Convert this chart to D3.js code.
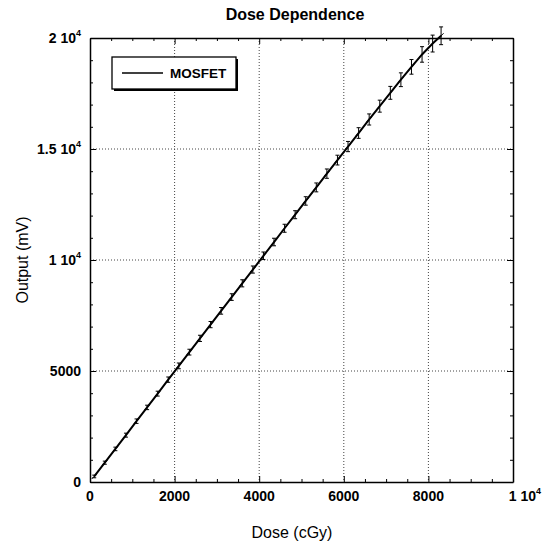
<!DOCTYPE html>
<html>
<head>
<meta charset="utf-8">
<script src="https://cdn.jsdelivr.net/npm/d3@7"></script>
<style>
  body { margin: 0; background: #fff; }
  svg { font-family: "Liberation Sans", Arial, sans-serif; }
</style>
</head>
<body>
<svg id="chart" width="548" height="545"></svg>
<script>
// data
const doses = [100, 350, 600, 850, 1100, 1350, 1600, 1850, 2100, 2350, 2600, 2850, 3100, 3350, 3600, 3850,
               4100, 4350, 4600, 4850, 5100, 5350, 5600, 5850, 6100, 6350, 6600, 6850, 7100, 7350, 7600, 7850, 8100, 8300]
const outputs = [250, 870, 1490, 2110, 2740, 3360, 3980, 4610, 5230, 5850, 6470, 7090, 7710, 8330, 8950, 9570,
                 10190, 10810, 11430, 12040, 12660, 13270, 13890, 14500, 15110, 15720, 16330, 16930, 17530, 18120, 18700, 19260, 19750, 20100]
const errors = [60, 70, 80, 90, 100, 100, 110, 120, 130, 130, 140, 140, 150, 150, 160, 160,
                170, 170, 180, 180, 190, 200, 210, 220, 230, 240, 250, 270, 290, 310, 330, 350, 380, 400]
const xTicks = [0, 2000, 4000, 6000, 8000, 10000]
const xTickLabels = ["0", "2000", "4000", "6000", "8000", "1 10|4"]
const yTicks = [0, 5000, 10000, 15000, 20000]
const yTickLabels = ["0", "5000", "1 10|4", "1.5 10|4", "2 10|4"]

const svg = d3.select("#chart")
const pLeft = 90, pRight = 513, pTop = 38, pBottom = 482

const x = d3.scaleLinear().domain([0, 10000]).range([pLeft, pRight])
const y = d3.scaleLinear().domain([0, 20000]).range([pBottom, pTop])

//grid
const grid = svg.append("g").attr("stroke", "#444").attr("stroke-width", 1).attr("stroke-dasharray", "1,2")
grid.selectAll("line.v").data(xTicks.slice(1, -1)).join("line").attr("class", "v")
    .attr("x1", d => x(d)).attr("x2", d => x(d)).attr("y1", pTop).attr("y2", pBottom)
grid.selectAll("line.h").data(yTicks.slice(1, -1)).join("line").attr("class", "h")
    .attr("y1", d => y(d)).attr("y2", d => y(d)).attr("x1", pLeft).attr("x2", pRight)

//axes, ticks inward on every side
const minorX = d3.range(0, 10001, 500).filter(d => d % 2000 !== 0)
const minorY = d3.range(0, 20001, 1000).filter(d => d % 5000 !== 0)

const axes = [
    { ax: d3.axisBottom(x), tr: `translate(0,${pBottom})`, minor: minorX, maj: xTicks },
    { ax: d3.axisTop(x), tr: `translate(0,${pTop})`, minor: minorX, maj: xTicks },
    { ax: d3.axisLeft(y), tr: `translate(${pLeft},0)`, minor: minorY, maj: yTicks },
    { ax: d3.axisRight(y), tr: `translate(${pRight},0)`, minor: minorY, maj: yTicks }
]
axes.forEach(a => {
    svg.append("g").attr("transform", a.tr)
        .call(a.ax.tickValues(a.minor).tickSize(-3).tickSizeOuter(0).tickFormat(""))
        .select(".domain").remove()
    const g = svg.append("g").attr("transform", a.tr)
    g.call(a.ax.tickValues(a.maj).tickSize(-6).tickSizeOuter(0).tickFormat(""))
    g.select(".domain").attr("stroke", "#000").attr("stroke-width", 1.5)
})

//tick labels, exponent as superscript
const addLabel = (sel, str) => {
    const parts = str.split("|")
    sel.append("tspan").text(parts[0])
    if (parts[1]) sel.append("tspan").attr("dy", -7).attr("font-size", 9).text(parts[1])
}
xTicks.forEach((d, i) => {
    // last label pushed right towards the page edge like the original, but kept whole
    const t = svg.append("text").attr("x", x(d) + (i === xTicks.length - 1 ? 12 : 0)).attr("y", pBottom + 19)
        .attr("text-anchor", "middle").attr("font-size", 14).attr("font-weight", "bold")
    addLabel(t, xTickLabels[i])
})
yTicks.forEach((d, i) => {
    const t = svg.append("text").attr("x", pLeft - 9).attr("y", y(d) + 5).attr("text-anchor", "end")
        .attr("font-size", 14).attr("font-weight", "bold")
    addLabel(t, yTickLabels[i])
})

//series line
const pts = doses.map((d, i) => ({ d, o: outputs[i], e: errors[i] }))
svg.append("path").datum(pts)
    .attr("d", d3.line().x(p => x(p.d)).y(p => y(p.o)))
    .attr("fill", "none").attr("stroke", "#000").attr("stroke-width", 2)

//error bars
const pg = svg.append("g").attr("stroke", "#000").attr("stroke-width", 1)
pg.selectAll("line.err").data(pts).join("line").attr("class", "err")
    .attr("x1", p => x(p.d)).attr("x2", p => x(p.d))
    .attr("y1", p => y(p.o - p.e)).attr("y2", p => y(p.o + p.e))
pg.selectAll("line.cap1").data(pts).join("line").attr("class", "cap1")
    .attr("x1", p => x(p.d) - 2).attr("x2", p => x(p.d) + 2)
    .attr("y1", p => y(p.o + p.e)).attr("y2", p => y(p.o + p.e))
pg.selectAll("line.cap2").data(pts).join("line").attr("class", "cap2")
    .attr("x1", p => x(p.d) - 2).attr("x2", p => x(p.d) + 2)
    .attr("y1", p => y(p.o - p.e)).attr("y2", p => y(p.o - p.e))
pg.selectAll("line.mk").data(pts).join("line").attr("class", "mk")
    .attr("x1", p => x(p.d) - 2.5).attr("x2", p => x(p.d) + 2.5)
    .attr("y1", p => y(p.o) + 2.5).attr("y2", p => y(p.o) - 2.5)

//legend
svg.append("rect").attr("x", 114).attr("y", 59).attr("width", 124).attr("height", 32).attr("fill", "#000")
svg.append("rect").attr("x", 112).attr("y", 57).attr("width", 124).attr("height", 32)
    .attr("fill", "#fff").attr("stroke", "#000").attr("stroke-width", 1.3)
svg.append("line").attr("x1", 122).attr("x2", 163).attr("y1", 73).attr("y2", 73)
    .attr("stroke", "#000").attr("stroke-width", 1.5)
svg.append("text").attr("x", 170).attr("y", 78).attr("font-size", 13.5).attr("font-weight", "bold").text("MOSFET")

//titles
svg.append("text").attr("x", 295).attr("y", 20).attr("text-anchor", "middle")
    .attr("font-size", 16).attr("font-weight", "bold").text("Dose Dependence")
svg.append("text").attr("x", 292).attr("y", 538).attr("text-anchor", "middle")
    .attr("font-size", 16).text("Dose (cGy)")
svg.append("text").attr("transform", `translate(28,${(pTop + pBottom) / 2}) rotate(-90)`)
    .attr("text-anchor", "middle").attr("font-size", 16).text("Output (mV)")
</script>
</body>
</html>
